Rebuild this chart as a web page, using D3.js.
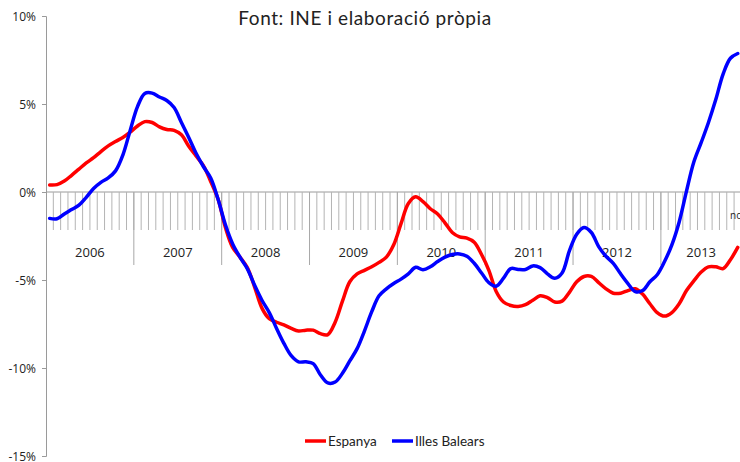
<!DOCTYPE html>
<html>
<head>
<meta charset="utf-8">
<script src="https://cdn.jsdelivr.net/npm/d3@7"></script>
<style>
  html, body { margin: 0; padding: 0; background: #fff; }
  svg { display: block; }
  text { fill: #222; }
</style>
</head>
<body>
<svg id="chart" width="740" height="462"></svg>
<script>
// dades mensuals gen 2006 - nov 2013
const years = ['2006', '2007', '2008', '2009', '2010', '2011', '2012', '2013'];
const monthsPerYear = [12, 12, 12, 12, 12, 12, 12, 11];
const lastLabel = 'nov';
const espanya = [
    0.4, 0.42, 0.62, 0.95, 1.3, 1.65, 1.95, 2.3, 2.62, 2.87, 3.1, 3.4,
    3.75, 4.0, 3.95, 3.7, 3.55, 3.5, 3.25, 2.6, 2.05, 1.5, 0.6, -0.4,
    -2.0, -3.15, -3.7, -4.3, -5.4, -6.6, -7.2, -7.4, -7.55, -7.75, -7.9, -7.85,
    -7.85, -8.05, -8.1, -7.4, -6.2, -5.1, -4.65, -4.45, -4.25, -4.0, -3.7, -3.0,
    -1.8, -0.65, -0.27, -0.55, -0.95, -1.25, -1.75, -2.3, -2.55, -2.62, -2.85, -3.55,
    -4.45, -5.65, -6.25, -6.45, -6.5, -6.4, -6.15, -5.9, -6.0, -6.25, -6.2, -5.7,
    -5.1, -4.8, -4.8, -5.15, -5.5, -5.75, -5.75, -5.6, -5.5, -5.8, -6.35, -6.85,
    -7.05, -6.85, -6.35, -5.6, -5.05, -4.55, -4.25, -4.25, -4.35, -3.85, -3.15
];
const balears = [
    -1.5, -1.52, -1.25, -1.0, -0.75, -0.3, 0.2, 0.55, 0.8, 1.2, 2.1, 3.5,
    4.85, 5.6, 5.62, 5.4, 5.2, 4.8, 3.95, 3.1, 2.2, 1.45, 0.8, -0.4,
    -1.85, -2.95, -3.7, -4.35, -5.3, -6.15, -6.85, -7.75, -8.6, -9.3, -9.65, -9.65,
    -9.75, -10.4, -10.85, -10.8, -10.3, -9.6, -8.9, -7.9, -6.8, -5.9, -5.5, -5.2,
    -4.95, -4.65, -4.28, -4.42, -4.25, -3.95, -3.7, -3.55, -3.52, -3.65, -4.05, -4.6,
    -5.15, -5.35, -4.9, -4.35, -4.4, -4.4, -4.2, -4.3, -4.65, -4.9, -4.6, -3.35,
    -2.4, -2.02, -2.3, -3.1, -3.65, -4.05, -4.65, -5.2, -5.66, -5.6, -5.1, -4.7,
    -3.95, -3.0, -1.7, 0.05, 1.7, 2.8, 3.95, 5.25, 6.7, 7.6, 7.87
];
const yTicks = [10, 5, 0, -5, -10, -15];
const seriesNames = ['Espanya', 'Illes Balears'];
const seriesColors = ['#ff0000', '#0000ff'];

const svg = d3.select('#chart');
const mLeft = 46, mTop = 16, mBottom = 456;
const monthW = 7.32;
const nMonths = d3.sum(monthsPerYear);

const x = d3.scaleBand().domain(d3.range(nMonths)).range([mLeft, mLeft + nMonths * monthW]).padding(0);
const y = d3.scaleLinear().domain([-15, 10]).range([mBottom, mTop]);
const y0 = y(0);

// eix vertical
const yAxis = d3.axisLeft(y).tickValues(yTicks).tickSize(4).tickFormat(d => d + '%');
svg.append('g').attr('transform', `translate(${mLeft},0)`).call(yAxis)
    .call(g => g.select('.domain').attr('stroke', '#9a9a9a'))
    .call(g => g.selectAll('.tick line').attr('stroke', '#9a9a9a'))
    .call(g => g.selectAll('text').attr('x', -10).attr('dy', '0.35em')
        .style('font-family', 'Open Sans, sans-serif').style('font-size', '12px').attr('fill', '#222'));

// eix horitzontal a 0%
const axisG = svg.append('g');
axisG.append('line').attr('x1', mLeft).attr('x2', 740).attr('y1', y0).attr('y2', y0)
    .attr('stroke', '#9a9a9a');
axisG.selectAll('.mtick').data(d3.range(1, nMonths + 1)).enter().append('line')
    .attr('class', 'mtick')
    .attr('x1', d => x(d - 1) + x.bandwidth()).attr('x2', d => x(d - 1) + x.bandwidth())
    .attr('y1', y0).attr('y2', y0 + 38)
    .attr('stroke', '#b4b4b4');

const starts = monthsPerYear.map((m, i) => d3.sum(monthsPerYear.slice(0, i)));
axisG.selectAll('.ysep').data(starts.slice(1)).enter().append('line')
    .attr('class', 'ysep')
    .attr('x1', d => x(d)).attr('x2', d => x(d))
    .attr('y1', y0).attr('y2', y0 + 73)
    .attr('stroke', '#a8a8a8');

axisG.selectAll('.ylab').data(years).enter().append('text')
    .attr('class', 'ylab')
    .attr('x', (d, i) => x(starts[i]) + monthsPerYear[i] * monthW / 2)
    .attr('y', y0 + 65)
    .attr('text-anchor', 'middle')
    .style('font-family', 'Open Sans, sans-serif').style('font-size', '13px')
    .text(d => d);

axisG.append('text')
    .attr('x', x(nMonths - 1) - 4).attr('y', y0 + 27)
    .style('font-family', 'Open Sans, sans-serif').style('font-size', '10px')
    .text(lastLabel);

// linies
const line = d3.line()
    .x((d, i) => x(i) + x.bandwidth() / 2)
    .y(d => y(d))
    .curve(d3.curveCatmullRom.alpha(0.5));

[espanya, balears].forEach((s, k) => {
    svg.append('path').datum(s)
        .attr('fill', 'none')
        .attr('stroke', seriesColors[k])
        .attr('stroke-width', 3.5)
        .attr('stroke-linejoin', 'round')
        .attr('stroke-linecap', 'round')
        .attr('d', line);
});

// titol
svg.append('text')
    .attr('x', 365).attr('y', 25)
    .attr('text-anchor', 'middle')
    .style('font-family', 'Lato, sans-serif').style('font-size', '19px')
    .style('letter-spacing', '0.6px')
    .text('Font: INE i elaboració pròpia');

// llegenda
const legendX = [305, 392];
const legend = svg.selectAll('.legend').data(seriesNames).enter().append('g')
    .attr('class', 'legend')
    .attr('transform', (d, i) => `translate(${legendX[i]},441)`);
legend.append('line').attr('x1', 0).attr('x2', 21).attr('y1', 0).attr('y2', 0)
    .attr('stroke', (d, i) => seriesColors[i]).attr('stroke-width', 3.5);
legend.append('text').attr('x', 23).attr('y', 0).attr('dy', '0.35em')
    .style('font-family', 'Lato, sans-serif').style('font-size', '13.5px')
    .text(d => d);
</script>
</body>
</html>
